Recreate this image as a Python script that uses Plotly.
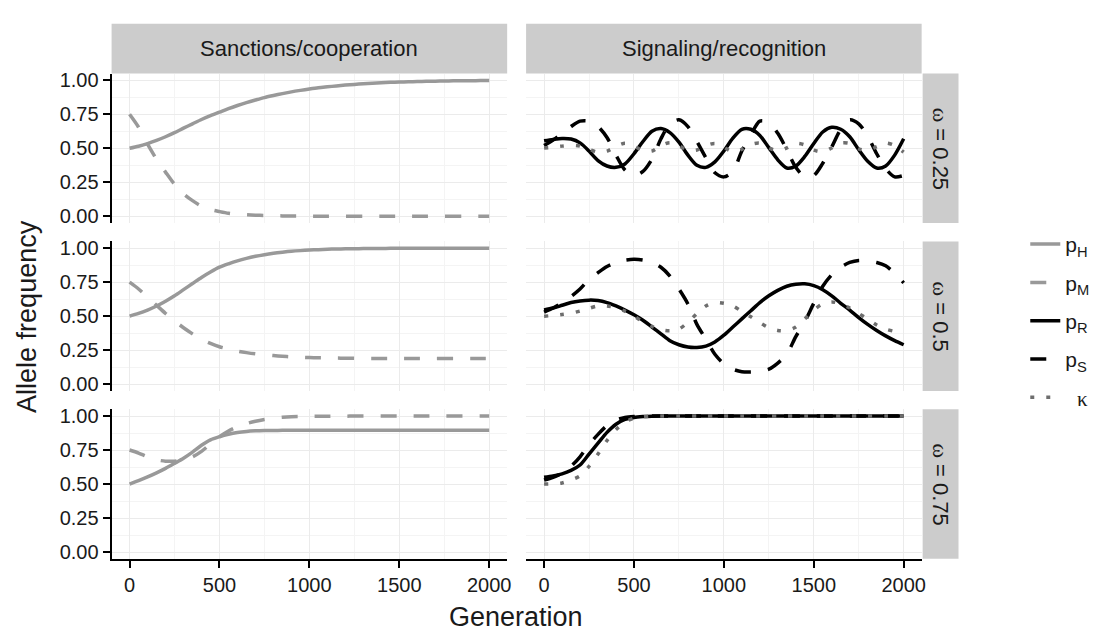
import plotly.graph_objects as go

W, H = 1104, 636

# ---------------- data ----------------
GEN = list(range(0, 2001, 50))
ROW_LABELS = ["0.25", "0.5", "0.75"]
COL_LABELS = ["Sanctions/cooperation", "Signaling/recognition"]
X_TICKS = [0, 500, 1000, 1500, 2000]
Y_TICKS = [0.0, 0.25, 0.5, 0.75, 1.0]

# Sanctions/cooperation
PH_025 = [0.500, 0.515, 0.535, 0.558, 0.585, 0.615, 0.648, 0.680, 0.712, 0.740, 0.766,
          0.792, 0.815, 0.836, 0.855, 0.873, 0.888, 0.902, 0.915, 0.926, 0.936, 0.945,
          0.952, 0.959, 0.965, 0.970, 0.975, 0.979, 0.982, 0.985, 0.987, 0.989, 0.991,
          0.993, 0.994, 0.995, 0.996, 0.997, 0.997, 0.998, 0.998]
PM_025 = [0.750, 0.655, 0.530, 0.420, 0.325, 0.235, 0.165, 0.115, 0.075, 0.050, 0.035,
          0.022, 0.015, 0.011, 0.008, 0.006, 0.004, 0.003, 0.002, 0.002, 0.001, 0.001,
          0.001, 0.001, 0.001, 0.000, 0.000, 0.000, 0.000, 0.000, 0.000, 0.000, 0.000,
          0.000, 0.000, 0.000, 0.000, 0.000, 0.000, 0.000, 0.000]
PH_05 = [0.500, 0.520, 0.545, 0.575, 0.610, 0.650, 0.695, 0.740, 0.785, 0.825, 0.860,
         0.885, 0.907, 0.925, 0.940, 0.952, 0.962, 0.970, 0.977, 0.982, 0.986, 0.989,
         0.992, 0.994, 0.995, 0.996, 0.997, 0.998, 0.998, 0.999, 0.999, 0.999, 0.999,
         1.000, 1.000, 1.000, 1.000, 1.000, 1.000, 1.000, 1.000]
PM_05 = [0.750, 0.700, 0.640, 0.580, 0.520, 0.465, 0.415, 0.370, 0.330, 0.300, 0.275,
         0.258, 0.243, 0.232, 0.223, 0.216, 0.210, 0.205, 0.201, 0.198, 0.196, 0.194,
         0.193, 0.192, 0.191, 0.190, 0.190, 0.189, 0.189, 0.189, 0.188, 0.188, 0.188,
         0.188, 0.188, 0.188, 0.188, 0.188, 0.188, 0.188, 0.188]
PH_075 = [0.500, 0.525, 0.552, 0.582, 0.615, 0.652, 0.690, 0.735, 0.785, 0.825, 0.848,
          0.866, 0.879, 0.887, 0.891, 0.893, 0.894, 0.895, 0.895, 0.895, 0.895, 0.895,
          0.895, 0.895, 0.895, 0.895, 0.895, 0.895, 0.895, 0.895, 0.895, 0.895, 0.895,
          0.895, 0.895, 0.895, 0.895, 0.895, 0.895, 0.895, 0.895]
PM_075 = [0.750, 0.728, 0.700, 0.678, 0.668, 0.668, 0.678, 0.700, 0.740, 0.795, 0.848,
          0.890, 0.922, 0.945, 0.962, 0.975, 0.985, 0.991, 0.995, 0.997, 0.998, 0.999,
          0.999, 0.999, 0.999, 1.000, 1.000, 1.000, 1.000, 1.000, 1.000, 1.000, 1.000,
          1.000, 1.000, 1.000, 1.000, 1.000, 1.000, 1.000, 1.000]

# Signaling/recognition
PR_025 = [0.555, 0.565, 0.572, 0.568, 0.540, 0.480, 0.410, 0.370, 0.360, 0.385, 0.460,
          0.550, 0.625, 0.645, 0.615, 0.545, 0.450, 0.375, 0.360, 0.400, 0.480, 0.575,
          0.640, 0.640, 0.595, 0.505, 0.415, 0.355, 0.370, 0.440, 0.535, 0.620, 0.655,
          0.640, 0.585, 0.490, 0.405, 0.355, 0.370, 0.450, 0.570]
PS_025 = [0.520, 0.560, 0.610, 0.660, 0.700, 0.700, 0.660, 0.580, 0.450, 0.340, 0.300,
          0.330, 0.420, 0.570, 0.680, 0.710, 0.660, 0.550, 0.430, 0.320, 0.290, 0.330,
          0.480, 0.600, 0.700, 0.690, 0.610, 0.490, 0.360, 0.290, 0.300, 0.390, 0.510,
          0.640, 0.710, 0.680, 0.590, 0.460, 0.350, 0.290, 0.300]
K_025 = [0.502, 0.508, 0.516, 0.522, 0.516, 0.492, 0.471, 0.479, 0.514, 0.537, 0.516,
         0.483, 0.480, 0.520, 0.541, 0.519, 0.484, 0.488, 0.520, 0.536, 0.508, 0.474,
         0.492, 0.528, 0.538, 0.502, 0.481, 0.503, 0.536, 0.525, 0.486, 0.474, 0.503,
         0.539, 0.536, 0.496, 0.483, 0.512, 0.539, 0.521, 0.472]
PR_05 = [0.545, 0.560, 0.580, 0.600, 0.612, 0.618, 0.615, 0.600, 0.575, 0.545, 0.510,
         0.470, 0.420, 0.370, 0.320, 0.290, 0.273, 0.270, 0.280, 0.310, 0.360, 0.420,
         0.480, 0.540, 0.600, 0.650, 0.690, 0.720, 0.735, 0.738, 0.725, 0.695, 0.650,
         0.595, 0.545, 0.490, 0.440, 0.395, 0.355, 0.320, 0.290]
PS_05 = [0.530, 0.560, 0.600, 0.645, 0.700, 0.770, 0.820, 0.865, 0.895, 0.912, 0.918,
         0.913, 0.895, 0.860, 0.795, 0.700, 0.590, 0.440, 0.330, 0.220, 0.150, 0.110,
         0.092, 0.090, 0.095, 0.110, 0.155, 0.220, 0.350, 0.460, 0.595, 0.720, 0.805,
         0.860, 0.895, 0.910, 0.905, 0.895, 0.870, 0.815, 0.745]
K_05 = [0.500, 0.505, 0.512, 0.522, 0.538, 0.558, 0.575, 0.575, 0.562, 0.537, 0.500,
        0.460, 0.425, 0.400, 0.392, 0.405, 0.455, 0.520, 0.575, 0.600, 0.595, 0.575,
        0.535, 0.495, 0.452, 0.415, 0.395, 0.395, 0.420, 0.480, 0.545, 0.590, 0.605,
        0.590, 0.560, 0.520, 0.478, 0.435, 0.405, 0.388, 0.380]
PR_075 = [0.550, 0.560, 0.575, 0.600, 0.640, 0.720, 0.800, 0.880, 0.940, 0.975, 0.990,
          0.996, 0.999, 1.000, 1.000, 1.000, 1.000, 1.000, 1.000, 1.000, 1.000, 1.000,
          1.000, 1.000, 1.000, 1.000, 1.000, 1.000, 1.000, 1.000, 1.000, 1.000, 1.000,
          1.000, 1.000, 1.000, 1.000, 1.000, 1.000, 1.000, 1.000]
PS_075 = [0.530, 0.550, 0.580, 0.630, 0.700, 0.790, 0.865, 0.930, 0.970, 0.990, 0.997,
          0.999, 1.000, 1.000, 1.000, 1.000, 1.000, 1.000, 1.000, 1.000, 1.000, 1.000,
          1.000, 1.000, 1.000, 1.000, 1.000, 1.000, 1.000, 1.000, 1.000, 1.000, 1.000,
          1.000, 1.000, 1.000, 1.000, 1.000, 1.000, 1.000, 1.000]
K_075 = [0.500, 0.502, 0.508, 0.530, 0.560, 0.630, 0.720, 0.820, 0.900, 0.955, 0.985,
         0.995, 0.999, 1.000, 1.000, 1.000, 1.000, 1.000, 1.000, 1.000, 1.000, 1.000,
         1.000, 1.000, 1.000, 1.000, 1.000, 1.000, 1.000, 1.000, 1.000, 1.000, 1.000,
         1.000, 1.000, 1.000, 1.000, 1.000, 1.000, 1.000, 1.000]

SERIF = '<span style="font-family:Liberation Serif">%s</span>'
SERIES = [
    ("p<sub>H</sub>", 0, [PH_025, PH_05, PH_075], "#999999", "solid"),
    ("p<sub>M</sub>", 0, [PM_025, PM_05, PM_075], "#999999", "16px,17px"),
    ("p<sub>R</sub>", 1, [PR_025, PR_05, PR_075], "#000000", "solid"),
    ("p<sub>S</sub>", 1, [PS_025, PS_05, PS_075], "#000000", "16px,17px"),
    ("\u00a0\u00a0" + SERIF % "κ", 1, [K_025, K_05, K_075], "#6e6e6e", "4px,12px"),
]

# ---------------- layout geometry (pixels) ----------------
COL_X = [(112, 509), (528, 925)]
ROW_Y = [(70.4, 221.9), (240.4, 391.9), (410.4, 561.9)]
FONT = "Liberation Sans"
TXT = "#1a1a1a"


def fx(p):
    return p / W


def fy(p):
    return 1 - p / H


fig = go.Figure()

for name, col, rows, color, dash in SERIES:
    for r, vals in enumerate(rows):
        i = r * 2 + col + 1
        fig.add_trace(go.Scatter(
            x=GEN, y=vals, mode="lines", name=name, legendgroup=name,
            showlegend=(r == 0),
            line=dict(color=color, width=3.5, dash=dash, shape="spline", smoothing=0.8),
            xaxis="x" if i == 1 else f"x{i}", yaxis="y" if i == 1 else f"y{i}",
            hoverinfo="skip",
        ))

layout = dict(
    width=W, height=H, margin=dict(l=0, r=0, t=0, b=0),
    paper_bgcolor="white", plot_bgcolor="white",
    font=dict(family=FONT, color=TXT),
    legend=dict(x=fx(1029), y=fy(321), xanchor="left", yanchor="middle",
                font=dict(size=21, family=FONT, color=TXT), tracegroupgap=8,
                itemwidth=30, bgcolor="rgba(0,0,0,0)", traceorder="grouped"),
    shapes=[], annotations=[],
)

for r in range(3):
    for c in range(2):
        i = r * 2 + c + 1
        xk = "xaxis" if i == 1 else f"xaxis{i}"
        yk = "yaxis" if i == 1 else f"yaxis{i}"
        bottom = (r == 2)
        left = (c == 0)
        layout[xk] = dict(
            domain=[fx(COL_X[c][0]), fx(COL_X[c][1])], anchor="y" if i == 1 else f"y{i}",
            range=[-100, 2100], tickmode="array", tickvals=X_TICKS,
            showticklabels=bottom, ticks="outside" if bottom else "",
            ticklen=7, tickwidth=2, tickcolor="black",
            showline=bottom, linecolor="black", linewidth=2,
            showgrid=True, gridcolor="#ebebeb", gridwidth=1.2, zeroline=False,
            minor=dict(tickmode="linear", tick0=0, dtick=250, showgrid=True,
                       gridcolor="#f4f4f4", gridwidth=1, ticks=""),
            tickfont=dict(size=20, family=FONT, color=TXT), fixedrange=True,
        )
        layout[yk] = dict(
            domain=[fy(ROW_Y[r][1]), fy(ROW_Y[r][0])], anchor="x" if i == 1 else f"x{i}",
            range=[-0.05, 1.05], tickmode="array", tickvals=Y_TICKS,
            ticktext=["%.2f" % v for v in Y_TICKS],
            showticklabels=left, ticks="outside" if left else "",
            ticklen=7, tickwidth=2, tickcolor="black",
            showline=left, linecolor="black", linewidth=2,
            showgrid=True, gridcolor="#ebebeb", gridwidth=1.2, zeroline=False,
            minor=dict(tickmode="linear", tick0=0, dtick=0.125, showgrid=True,
                       gridcolor="#f4f4f4", gridwidth=1, ticks=""),
            tickfont=dict(size=20, family=FONT, color=TXT), fixedrange=True,
        )

# strips
STRIP = "#cccccc"
for c, lab in enumerate(COL_LABELS):
    layout["shapes"].append(dict(type="rect", xref="paper", yref="paper",
                                 x0=fx(COL_X[c][0]), x1=fx(COL_X[c][1]),
                                 y0=fy(70.4), y1=fy(20), fillcolor=STRIP, line=dict(width=0),
                                 layer="below"))
    layout["annotations"].append(dict(text=lab, xref="paper", yref="paper",
                                      x=fx((COL_X[c][0] + COL_X[c][1]) / 2), y=fy(45),
                                      xanchor="center", yanchor="middle", showarrow=False,
                                      font=dict(size=22, family=FONT, color=TXT)))
for r, lab in enumerate(ROW_LABELS):
    layout["shapes"].append(dict(type="rect", xref="paper", yref="paper",
                                 x0=fx(926), x1=fx(962),
                                 y0=fy(ROW_Y[r][1]), y1=fy(ROW_Y[r][0]), fillcolor=STRIP,
                                 line=dict(width=0), layer="below"))
    layout["annotations"].append(dict(text=(SERIF % "ω") + " = " + lab, xref="paper", yref="paper",
                                      x=fx(944), y=fy((ROW_Y[r][0] + ROW_Y[r][1]) / 2),
                                      xanchor="center", yanchor="middle", showarrow=False,
                                      textangle=90,
                                      font=dict(size=22, family=FONT, color=TXT)))

layout["annotations"].append(dict(text="Allele frequency", xref="paper", yref="paper",
                                  x=fx(27), y=fy(316), xanchor="center", yanchor="middle",
                                  textangle=-90, showarrow=False,
                                  font=dict(size=27, family=FONT, color=TXT)))
layout["annotations"].append(dict(text="Generation", xref="paper", yref="paper",
                                  x=fx(518), y=fy(621), xanchor="center", yanchor="middle",
                                  showarrow=False,
                                  font=dict(size=27, family=FONT, color=TXT)))

fig.update_layout(**layout)
fig.write_html("out.html")
